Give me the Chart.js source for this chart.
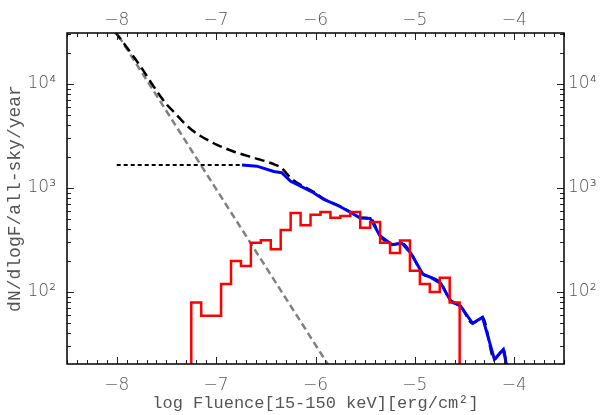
<!DOCTYPE html>
<html>
<head>
<meta charset="utf-8">
<script src="https://cdn.jsdelivr.net/npm/chart.js@4"></script>
<style>
  body { margin: 0; background: #fff; }
</style>
</head>
<body>
<canvas id="fluence" width="604" height="415"></canvas>
<script>
// red histogram: bin edges (log fluence) and counts per bin
const histEdges = [-7.25, -7.15, -7.05, -6.95, -6.85, -6.75, -6.65, -6.55, -6.45, -6.35,
    -6.25, -6.15, -6.05, -5.95, -5.85, -5.75, -5.65, -5.55, -5.45, -5.35,
    -5.25, -5.15, -5.05, -4.95, -4.85, -4.75, -4.65, -4.55]
const histCounts = [79, 59, 59, 119, 199, 178, 298, 314, 257, 394,
    576, 437, 553, 587, 518, 538, 587, 415, 472, 298,
    237, 313, 160, 119, 100, 137, 79]

// blue curve
const blueX = [-6.74, -6.59, -6.42, -6.34, -6.25, -6.15, -6.02, -5.92, -5.75, -5.63,
    -5.55, -5.45, -5.35, -5.23, -5.13, -5.04, -4.92, -4.84, -4.74, -4.64,
    -4.54, -4.42, -4.32, -4.20, -4.11, -4.07]
const blueY = [1660, 1620, 1440, 1400, 1160, 1040, 900, 780, 660, 570,
    515, 510, 345, 285, 294, 235, 148, 138, 121, 82,
    73, 50, 57, 22.5, 28, 18]

// black dashed total
const totalX = [-8.02, -7.92, -7.83, -7.74, -7.66, -7.58, -7.5, -7.41, -7.33, -7.25,
    -7.16, -7.07, -6.99, -6.9, -6.82, -6.74, -6.66, -6.57, -6.49, -6.41,
    -6.34, -6.25, -6.15, -6.02, -5.92, -5.75, -5.63, -5.55, -5.45, -5.35,
    -5.23, -5.13, -5.04, -4.92, -4.84, -4.74, -4.64, -4.54, -4.42, -4.32,
    -4.20, -4.11, -4.07]
const totalY = [32000, 24000, 18300, 13800, 10500, 8100, 6400, 5200, 4300, 3650,
    3180, 2840, 2590, 2390, 2230, 2110, 2000, 1890, 1790, 1680,
    1550, 1250, 1070, 920, 790, 665, 575, 518, 512, 346,
    286, 295, 236, 149, 139, 122, 82, 73, 50, 57,
    22.5, 28, 18]

// black dotted plateau
const plateauX = [-8.0, -6.74]
const plateauY = [1660, 1660]

// grey power law
const powerX = [-8.1, -5.7]
const powerY = [43600, 11]

const xTicks = [-8, -7, -6, -5, -4]
const yTicks = [100, 1000, 10000]
const supers = {2: '\u00b2', 3: '\u00b3', 4: '\u2074'}

function pts(xs, ys) {
    return xs.map((x, i) => ({x: x, y: ys[i]}))
}

let histPts = [{x: histEdges[0], y: 1}]
histCounts.forEach((c, i) => histPts.push({x: histEdges[i], y: c}))
histPts.push({x: histEdges[histEdges.length - 1], y: histCounts[histCounts.length - 1]})
histPts.push({x: histEdges[histEdges.length - 1], y: 1})

const tickFont = {family: 'DejaVu Sans', size: 17, weight: 200}
const textColor = '#555'
const noGrid = {display: false, drawTicks: false, tickLength: 0}

const xLabel = v => (v < 0 ? '\u2212' : '') + Math.abs(v)
const yLabel = v => '10' + supers[Math.round(Math.log10(v))]

const tickMarks = {
    id: 'tickMarks',
    afterDatasetsDraw(chart) {
        const {ctx, chartArea: a, scales} = chart
        ctx.save()
        ctx.strokeStyle = '#222'
        ctx.lineWidth = 1
        ctx.beginPath()
        for (let i = -85; i <= -35; i++) {
            const px = Math.round(scales.x.getPixelForValue(i / 10)) + 0.5
            const len = i % 10 === 0 ? 7 : 4
            ctx.moveTo(px, a.bottom); ctx.lineTo(px, a.bottom - len)
            ctx.moveTo(px, a.top); ctx.lineTo(px, a.top + len)
        }
        for (let d = 1; d <= 4; d++) {
            for (let m = 1; m <= 9; m++) {
                const v = m * Math.pow(10, d)
                if (v < scales.y.min || v > scales.y.max) continue
                const py = Math.round(scales.y.getPixelForValue(v)) + 0.5
                const len = m === 1 ? 7 : 4
                ctx.moveTo(a.left, py); ctx.lineTo(a.left + len, py)
                ctx.moveTo(a.right, py); ctx.lineTo(a.right - len, py)
            }
        }
        ctx.stroke()
        ctx.strokeStyle = '#000'
        ctx.lineWidth = 1.5
        ctx.strokeRect(a.left, a.top, a.right - a.left, a.bottom - a.top)
        ctx.restore()
    }
}

new Chart(document.getElementById('fluence'), {
    type: 'line',
    data: {
        datasets: [
            {data: histPts, borderColor: '#ff0000', borderWidth: 2.5, stepped: true, order: 0},
            {data: pts(blueX, blueY), borderColor: '#0000ff', borderWidth: 3, order: 1},
            {data: pts(plateauX, plateauY), borderColor: '#000', borderWidth: 2, borderDash: [4, 3], order: 2},
            {data: pts(totalX, totalY), borderColor: '#000', borderWidth: 2.5, borderDash: [10, 5],
                cubicInterpolationMode: 'monotone', order: 3},
            {data: pts(powerX, powerY), borderColor: '#808080', borderWidth: 2.5, borderDash: [7, 4], order: 4},
        ]
    },
    options: {
        responsive: false,
        animation: false,
        layout: {padding: 0},
        elements: {point: {radius: 0}, line: {tension: 0, fill: false}},
        plugins: {legend: {display: false}, tooltip: {enabled: false}},
        scales: {
            x: {
                type: 'linear', position: 'bottom', min: -8.5, max: -3.5,
                afterBuildTicks: s => { s.ticks = xTicks.map(v => ({value: v})) },
                afterFit: s => { s.height = 51 },
                grid: noGrid,
                border: {display: false},
                ticks: {callback: xLabel, font: tickFont, color: textColor, padding: 11, maxRotation: 0},
                title: {display: true, text: 'log Fluence[15-150 keV][erg/cm\u00b2]',
                    font: {family: 'Liberation Mono', size: 17},
                    color: textColor, padding: {top: 0, bottom: 1}}
            },
            x2: {
                type: 'linear', position: 'top', min: -8.5, max: -3.5,
                afterBuildTicks: s => { s.ticks = xTicks.map(v => ({value: v})) },
                afterFit: s => { s.height = 33 },
                grid: noGrid,
                border: {display: false},
                ticks: {callback: xLabel, font: tickFont, color: textColor, padding: 2, maxRotation: 0}
            },
            y: {
                type: 'logarithmic', position: 'left', min: 20.3, max: 30900,
                afterBuildTicks: s => { s.ticks = yTicks.map(v => ({value: v})) },
                afterFit: s => { s.width = 67 },
                grid: noGrid,
                border: {display: false},
                ticks: {callback: yLabel, font: tickFont, color: textColor, padding: 11},
                title: {display: true, text: 'dN/dlogF/all-sky/year',
                    font: {family: 'Liberation Mono', size: 18},
                    color: textColor, padding: {top: 4, bottom: 0}}
            },
            y2: {
                type: 'logarithmic', position: 'right', min: 20.3, max: 30900,
                afterBuildTicks: s => { s.ticks = yTicks.map(v => ({value: v})) },
                afterFit: s => { s.width = 40 },
                grid: noGrid,
                border: {display: false},
                ticks: {callback: yLabel, font: tickFont, color: textColor, padding: 4}
            }
        }
    },
    plugins: [tickMarks]
})
</script>
</body>
</html>
